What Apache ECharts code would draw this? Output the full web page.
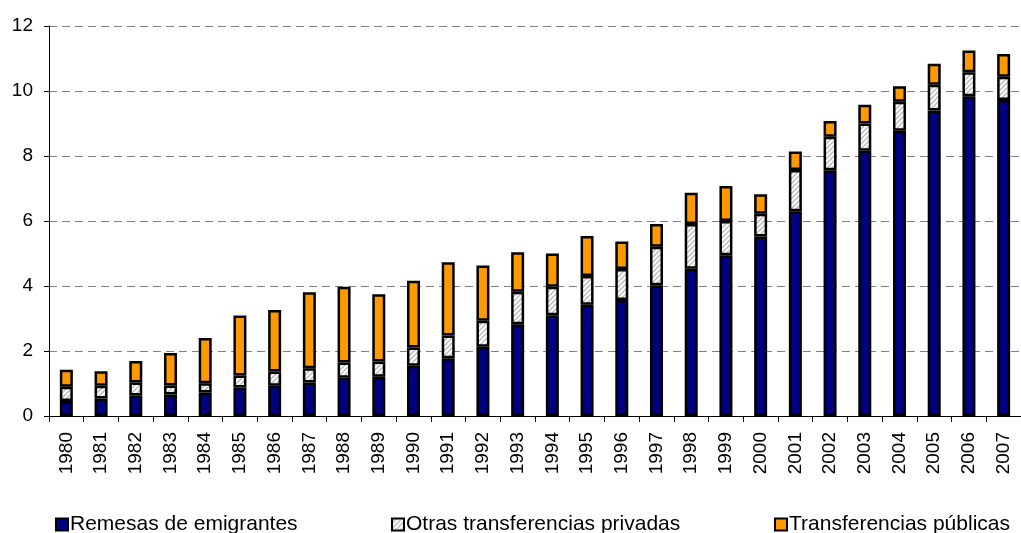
<!DOCTYPE html>
<html>
<head>
<meta charset="utf-8">
<script src="https://cdn.jsdelivr.net/npm/echarts@6/dist/echarts.min.js"></script>
<style>
	html, body { margin: 0; padding: 0; background: #fff; }
	#chart { width: 1021px; height: 533px; }
</style>
</head>
<body>
<div id="chart"></div>
<script>
	var years = ["1980", "1981", "1982", "1983", "1984", "1985", "1986", "1987", "1988", "1989",
		"1990", "1991", "1992", "1993", "1994", "1995", "1996", "1997", "1998", "1999",
		"2000", "2001", "2002", "2003", "2004", "2005", "2006", "2007"];

	var remesas = [0.46, 0.54, 0.63, 0.66, 0.72, 0.88, 0.93, 1.03, 1.18, 1.21,
		1.55, 1.78, 2.13, 2.82, 3.10, 3.42, 3.57, 4.02, 4.53, 4.95,
		5.52, 6.30, 7.56, 8.16, 8.78, 9.40, 9.84, 9.72];

	var otras = [0.44, 0.39, 0.40, 0.28, 0.29, 0.37, 0.44, 0.44, 0.47, 0.47,
		0.56, 0.70, 0.80, 1.00, 0.88, 0.89, 0.95, 1.19, 1.38, 1.05,
		0.70, 1.27, 1.03, 0.84, 0.89, 0.79, 0.74, 0.72];

	var publicas = [0.52, 0.45, 0.66, 1.00, 1.39, 1.84, 1.89, 2.34, 2.33, 2.07,
		2.05, 2.25, 1.70, 1.22, 1.02, 1.23, 0.85, 0.70, 0.96, 1.08,
		0.60, 0.57, 0.49, 0.58, 0.48, 0.65, 0.67, 0.70];

	var names = ["Remesas de emigrantes", "Otras transferencias privadas", "Transferencias públicas"];

	var font = "Liberation Sans, Arial, sans-serif";

	// diagonal hatch used for the middle series
	var hatch = function() {
		var c = document.createElement("canvas");
		c.width = 5;
		c.height = 5;
		var ctx = c.getContext("2d");
		ctx.fillStyle = "#ffffff";
		ctx.fillRect(0, 0, 5, 5);
		ctx.strokeStyle = "#bdbdbd";
		ctx.lineWidth = 1.5;
		ctx.beginPath();
		ctx.moveTo(-1, 6); ctx.lineTo(6, -1);
		ctx.moveTo(-4, 4); ctx.lineTo(4, -4);
		ctx.moveTo(1, 9); ctx.lineTo(9, 1);
		ctx.stroke();
		return c;
	};

	var barSeries = function(name, data, color) {
		return {
			name: name,
			type: "bar",
			stack: "total",
			data: data,
			barWidth: 13,
			itemStyle: { color: color, borderColor: "#000", borderWidth: 2.5 }
		};
	};

	var legendAt = function(left, name) {
		return {
			left: left,
			top: 514,
			data: [name],
			icon: "rect",
			itemWidth: 12,
			itemHeight: 12,
			itemGap: 0,
			padding: 0,
			selectedMode: false,
			textStyle: { fontFamily: font, fontSize: 21, color: "#000", padding: [0, 0, 0, -3] }
		};
	};

	var chart = echarts.init(document.getElementById("chart"));
	chart.setOption({
		animation: false,
		grid: { left: 49, right: -8, top: 26, bottom: 117 },
		legend: [legendAt(55, names[0]), legendAt(391, names[1]), legendAt(774, names[2])],
		xAxis: {
			type: "category",
			data: years,
			axisLine: { lineStyle: { color: "#000", width: 1 } },
			axisTick: { show: true, length: 6, lineStyle: { color: "#000" } },
			axisLabel: { rotate: 90, margin: 16, fontFamily: font, fontSize: 19, color: "#000" }
		},
		yAxis: {
			type: "value",
			min: 0,
			max: 12,
			interval: 2,
			axisLine: { show: true, lineStyle: { color: "#000", width: 1 } },
			axisTick: { show: true, length: 5, lineStyle: { color: "#000" } },
			axisLabel: { margin: 16, fontFamily: font, fontSize: 19, color: "#000" },
			splitLine: { lineStyle: { color: "#808080", width: 1, type: [8, 5] } }
		},
		series: [
			barSeries(names[0], remesas, "#000080"),
			barSeries(names[1], otras, { image: hatch(), repeat: "repeat" }),
			barSeries(names[2], publicas, "#FF9900")
		]
	});
</script>
</body>
</html>
